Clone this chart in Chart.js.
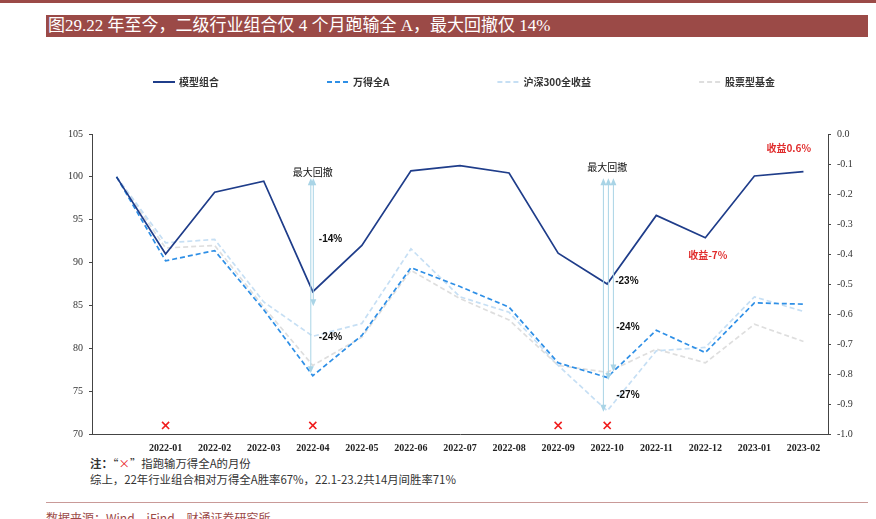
<!DOCTYPE html>
<html>
<head>
<meta charset="utf-8">
<script src="https://cdn.jsdelivr.net/npm/chart.js@4.4.1/dist/chart.umd.min.js"></script>
<style>
  html, body { margin:0; padding:0; background:#fff; }
  body { width:876px; height:519px; position:relative; overflow:hidden; }
  #topline { position:absolute; left:0; top:0; width:876px; height:3px; background:#9B4A47; }
  #title { position:absolute; left:46px; top:15px; width:822px; height:22px; background:#9B4A47; color:#fff;
           font-family:"Liberation Serif","Noto Sans CJK SC",serif; font-size:17px; line-height:22px; padding-left:2px; box-sizing:border-box; white-space:nowrap; }
  #wrap { position:absolute; left:0; top:0; width:876px; height:519px; }
  .note { position:absolute; left:90px; font-family:"Noto Sans CJK SC",sans-serif; font-size:11.4px; color:#333; white-space:nowrap; }
  #note1 { top:455px; }
  #note2 { top:471px; }
  #rule { position:absolute; left:46px; top:502px; width:822px; height:1px; background:#C99A98; }
  #source { position:absolute; left:46px; top:509px; font-family:"Noto Sans CJK SC",sans-serif; font-size:12px; color:#9B4A47; white-space:nowrap; }
</style>
</head>
<body>
<div id="topline"></div>
<div id="title">图29.22 年至今，二级行业组合仅 4 个月跑输全 A，最大回撤仅 14%</div>
<div class="note" id="note1"><b>注：</b>“<span style="color:#E8201C">×</span>”指跑输万得全A的月份</div>
<div class="note" id="note2">综上，22年行业组合相对万得全A胜率67%，22.1-23.2共14月间胜率71%</div>
<div id="rule"></div>
<div id="source">数据来源：Wind，iFind，财通证券研究所</div>
<div id="wrap"><canvas id="c"></canvas></div>
<script>
// ---- data ----
const months = ['', '2022-01','2022-02','2022-03','2022-04','2022-05','2022-06','2022-07','2022-08','2022-09','2022-10','2022-11','2022-12','2023-01','2023-02'];
const modelPortfolio = [100, 91.0, 98.2, 99.5, 86.6, 92.0, 100.7, 101.3, 100.45, 91.1, 87.5, 95.5, 92.9, 100.1, 100.6];
const windAllA      = [100, 90.2, 91.4, 84.5, 76.8, 81.5, 89.4, 87.2, 84.8, 78.3, 76.6, 82.1, 79.5, 85.3, 85.15];
const csi300Total   = [100, 92.3, 92.7, 85.4, 81.4, 82.9, 91.6, 86.0, 84.2, 78.0, 72.7, 79.7, 80.1, 86.0, 84.3];
const equityFund    = [100, 91.7, 92.0, 84.8, 78.0, 81.3, 89.1, 85.8, 83.3, 78.0, 77.2, 79.9, 78.3, 82.8, 80.8];
const lossMarks     = [null, 71, null, null, 71, null, null, null, null, 71, 71, null, null, null, null];
const leftTicks = { min:70, max:105, step:5 };
const rightTicks = { min:-1, max:0, step:0.1 };
const seriesNames = ['模型组合','万得全A','沪深300全收益','股票型基金'];
// drawdown arrows: [category index, from value, to value]
const drawdownArrows = [[4,100,77.1],[4,100,84.9],[10,100,72.6],[10,100,76.3],[10,100,77.3]];
const drawdownLabels = [[4,'-14%',92.75],[4,'-24%',81.3],[10,'-23%',87.85],[10,'-24%',82.4],[10,'-27%',74.55]];

// ---- styles ----
const arrowDx = [-2, 0.5, -3.8, 1.2, 6.2];
const labelDx = [6, 6, 8, 9, 9];
const serif = '"Liberation Serif", "Noto Sans CJK SC", serif';
const cjk = '"Noto Sans CJK SC", sans-serif';

const annotations = {
  id: 'annotations',
  afterDatasetsDraw(chart) {
    const ctx = chart.ctx, x = chart.scales.x, y = chart.scales.y;
    ctx.save();
    // arrows
    drawdownArrows.forEach((a, i) => {
      const px = x.getPixelForValue(a[0]) + arrowDx[i];
      const y0 = y.getPixelForValue(a[1]) + 1.5, y1 = y.getPixelForValue(a[2]);
      ctx.strokeStyle = '#A9D4E6'; ctx.fillStyle = '#A9D4E6'; ctx.lineWidth = 1;
      ctx.beginPath(); ctx.moveTo(px, y0 + 6); ctx.lineTo(px, y1 - 6); ctx.stroke();
      ctx.beginPath(); ctx.moveTo(px, y0); ctx.lineTo(px - 3, y0 + 7); ctx.lineTo(px + 3, y0 + 7); ctx.closePath(); ctx.fill();
      ctx.beginPath(); ctx.moveTo(px, y1); ctx.lineTo(px - 3, y1 - 7); ctx.lineTo(px + 3, y1 - 7); ctx.closePath(); ctx.fill();
    });
    // labels
    ctx.fillStyle = '#111'; ctx.font = 'bold 10px "Liberation Sans", Arial, sans-serif';
    ctx.textAlign = 'left'; ctx.textBaseline = 'middle';
    drawdownLabels.forEach((l, i) => {
      ctx.fillText(l[1], x.getPixelForValue(l[0]) + labelDx[i], y.getPixelForValue(l[2]));
    });
    ctx.font = '10px ' + cjk; ctx.textAlign = 'center'; ctx.fillStyle = '#111';
    ctx.fillText('最大回撤', x.getPixelForValue(4), y.getPixelForValue(100.6));
    ctx.fillText('最大回撤', x.getPixelForValue(10), y.getPixelForValue(101.1));
    ctx.fillStyle = '#E02C2C'; ctx.font = 'bold 10px ' + cjk;
    ctx.fillText('收益0.6%', x.getPixelForValue(13.7), y.getPixelForValue(103.4));
    ctx.fillText('收益-7%', x.getPixelForValue(12.05), y.getPixelForValue(90.9));
    // legend
    let lx = 153; const ly = 82;
    ctx.font = 'bold 10px ' + cjk; ctx.textAlign = 'left';
    chart.data.datasets.slice(0, 4).forEach(ds => {
      ctx.strokeStyle = ds.borderColor; ctx.lineWidth = 2; ctx.setLineDash(ds.borderDash || []);
      ctx.beginPath(); ctx.moveTo(lx, ly); ctx.lineTo(lx + 22, ly); ctx.stroke();
      ctx.setLineDash([]);
      ctx.fillStyle = '#333';
      ctx.fillText(ds.label, lx + 26, ly);
      lx += 26 + ctx.measureText(ds.label).width + 108;
    });
    ctx.restore();
  }
};

const lineDs = (label, data, color, dash, w) => ({
  type:'line', label, data, borderColor:color, backgroundColor:color, borderDash:dash,
  borderWidth:w, pointRadius:0, tension:0, fill:false, yAxisID:'y'
});

new Chart(document.getElementById('c'), {
  data: {
    labels: months,
    datasets: [
      lineDs(seriesNames[0], modelPortfolio, '#1F3D8A', [], 1.7),
      lineDs(seriesNames[1], windAllA, '#2E8FE6', [5,3], 1.7),
      lineDs(seriesNames[2], csi300Total, '#C6DFF4', [5,3], 1.7),
      lineDs(seriesNames[3], equityFund, '#DEDEDE', [5,3], 1.7),
      { type:'line', label:'loss', data:lossMarks, showLine:false, pointStyle:'crossRot', pointRadius:5,
        pointBorderColor:'#F01E1E', pointBorderWidth:1.6, borderColor:'#F01E1E', yAxisID:'y' }
    ]
  },
  options: {
    responsive:true, maintainAspectRatio:false, animation:false,
    layout:{ padding:{ top:134, left:0, right:0, bottom:0 } },
    plugins:{ legend:{ display:false }, tooltip:{ enabled:false } },
    scales:{
      x:{
        type:'category', offset:true,
        grid:{ display:false },
        border:{ display:true, color:'#444', width:1 },
        ticks:{ font:{ family:serif, size:10, weight:'bold' }, color:'#222', maxRotation:0, autoSkip:false, padding:0 },
        afterFit(s){ s.height = 85; }
      },
      y:{
        position:'left', min:leftTicks.min, max:leftTicks.max,
        ticks:{ stepSize:leftTicks.step, font:{ family:serif, size:10 }, color:'#333', padding:6 },
        grid:{ display:true, drawOnChartArea:false, drawTicks:true, tickLength:3, color:'#444' },
        border:{ display:true, color:'#444', width:1 },
        afterFit(s){ s.width = 92; }
      },
      y1:{
        position:'right', min:rightTicks.min, max:rightTicks.max,
        ticks:{ stepSize:rightTicks.step, font:{ family:serif, size:10 }, color:'#333', padding:6,
                callback:v => Number(v).toFixed(1) },
        grid:{ display:true, drawOnChartArea:false, drawTicks:true, tickLength:3, color:'#444' },
        border:{ display:true, color:'#444', width:1 },
        afterFit(s){ s.width = 48; }
      }
    }
  },
  plugins:[annotations]
});
</script>
</body>
</html>
